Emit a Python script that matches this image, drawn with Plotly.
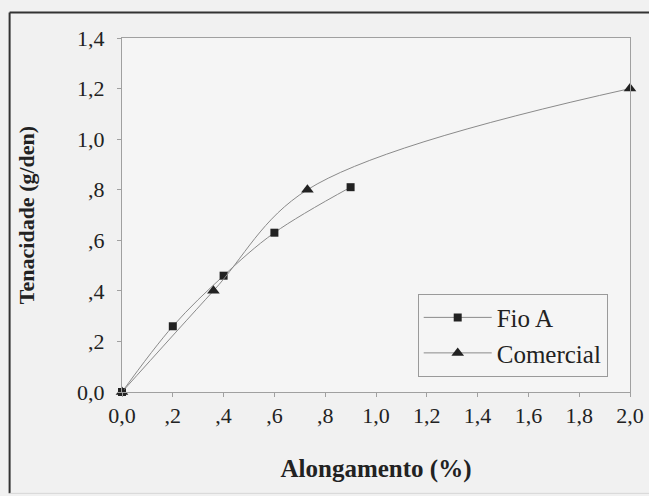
import plotly.graph_objects as go

# Data
fio_a_x = [0.0, 0.2, 0.4, 0.6, 0.9]
fio_a_y = [0.0, 0.26, 0.46, 0.63, 0.81]
com_x = [0.0, 0.36, 0.73, 2.0]
com_y = [0.0, 0.40, 0.80, 1.20]

x_tickvals = [0.0, 0.2, 0.4, 0.6, 0.8, 1.0, 1.2, 1.4, 1.6, 1.8, 2.0]
x_ticktext = ["0,0", ",2", ",4", ",6", ",8", "1,0", "1,2", "1,4", "1,6", "1,8", "2,0"]
y_tickvals = [0.0, 0.2, 0.4, 0.6, 0.8, 1.0, 1.2, 1.4]
y_ticktext = ["0,0", ",2", ",4", ",6", ",8", "1,0", "1,2", "1,4"]

FONT = '"Liberation Serif", "DejaVu Serif", serif'
LINE_COL = "#8a8a8a"
MARK_COL = "#222222"

fig = go.Figure()
fig.add_trace(go.Scatter(
    x=fio_a_x, y=fio_a_y, name="Fio A", mode="lines+markers",
    line=dict(color=LINE_COL, width=1, shape="spline", smoothing=1.0),
    marker=dict(symbol="square", size=8, color=MARK_COL),
    cliponaxis=False,
))
fig.add_trace(go.Scatter(
    x=com_x, y=com_y, name="Comercial", mode="lines+markers",
    line=dict(color=LINE_COL, width=1, shape="spline", smoothing=1.0),
    marker=dict(symbol="triangle-up", size=11, color=MARK_COL),
    cliponaxis=False,
))

L, R, T, B = 122, 18.5, 38, 103.5
W, H = 649, 496
pw = W - L - R
ph = H - T - B

def px2x(px):
    return (px - L) / pw

def py2y(py):
    return (H - B - py) / ph

fig.update_layout(
    width=W, height=H,
    margin=dict(l=L, r=R, t=T, b=B, pad=0, autoexpand=False),
    paper_bgcolor="#f1f1f1",
    plot_bgcolor="#f5f5f5",
    font=dict(family=FONT, color=MARK_COL, size=21),
    showlegend=True,
    legend=dict(
        x=px2x(418), y=py2y(294), xanchor="left", yanchor="top",
        bgcolor="#f5f5f5", bordercolor="#9a9a9a", borderwidth=1,
        font=dict(family=FONT, size=25, color=MARK_COL),
        itemwidth=68, tracegroupgap=0,
    ),
    xaxis=dict(
        range=[0, 2.0], tickvals=x_tickvals, ticktext=x_ticktext,
        showgrid=False, zeroline=False, automargin=False,
        showline=True, linecolor="#a0a0a0", linewidth=1, mirror=True,
        ticks="outside", ticklen=4, tickcolor="#a0a0a0",
        tickfont=dict(family=FONT, size=22, color=MARK_COL),
        title=dict(text="<b>Alongamento (%)</b>", standoff=32,
                   font=dict(family=FONT, size=25, color=MARK_COL)),
    ),
    yaxis=dict(
        range=[0, 1.4], tickvals=y_tickvals, ticktext=y_ticktext,
        showgrid=False, zeroline=False, automargin=False,
        showline=True, linecolor="#a0a0a0", linewidth=1, mirror=True,
        ticks="outside", ticklen=4, tickcolor="#a0a0a0",
        ticklabelstandoff=8,
        tickfont=dict(family=FONT, size=22, color=MARK_COL),
        title=dict(text="<b>Tenacidade (g/den)</b>\u00a0\u00a0\u00a0", standoff=36,
                   font=dict(family=FONT, size=22, color=MARK_COL)),
    ),
    shapes=[
        dict(type="line", xref="paper", yref="paper",
             x0=px2x(9.5), x1=px2x(655), y0=py2y(12.5), y1=py2y(12.5),
             line=dict(color="#333333", width=2), layer="below"),
        dict(type="line", xref="paper", yref="paper",
             x0=px2x(9.5), x1=px2x(9.5), y0=py2y(494), y1=py2y(12.5),
             line=dict(color="#333333", width=2), layer="below"),
        dict(type="line", xref="paper", yref="paper",
             x0=px2x(9.5), x1=px2x(655), y0=py2y(494), y1=py2y(494),
             line=dict(color="#d6d6d6", width=1), layer="below"),
    ],
)

fig.write_html(
    "out.html",
    config={"displayModeBar": False},
    post_script="document.body.style.margin='0';document.body.style.padding='0';",
)
